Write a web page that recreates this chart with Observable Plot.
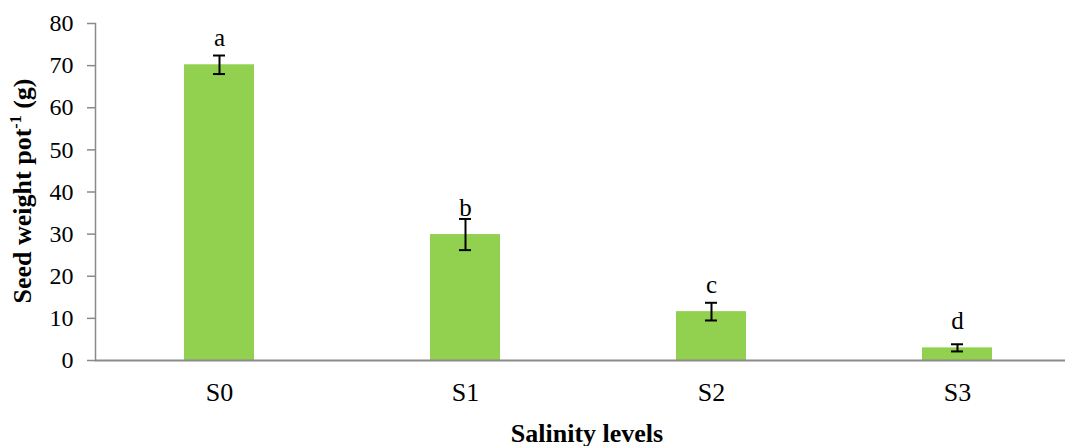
<!DOCTYPE html>
<html>
<head>
<meta charset="utf-8">
<script src="https://cdn.jsdelivr.net/npm/d3@7"></script>
<script src="https://cdn.jsdelivr.net/npm/@observablehq/plot@0.6"></script>
<style>
  html, body { margin: 0; padding: 0; background: white; }
  #chart { width: 1065px; height: 446px; }
</style>
</head>
<body>
<div id="chart"></div>
<script>
const levels = ["S0", "S1", "S2", "S3"];
const seedWeight = [70.2, 29.9, 11.6, 3.0];
const stdError = [2.2, 3.7, 2.1, 0.85];
const letters = ["a", "b", "c", "d"];
const yTicks = [0, 10, 20, 30, 40, 50, 60, 70, 80];

const data = levels.map((l, i) => ({
  level: l, value: seedWeight[i], err: stdError[i], letter: letters[i]
}));

const axisGray = "#8a8a8a";
const serif = "'Liberation Serif', 'Times New Roman', serif";

const chart = Plot.plot({
  width: 1065,
  height: 446,
  marginLeft: 95,
  marginRight: 0,
  marginTop: 23,
  marginBottom: 86,
  style: { fontFamily: serif, fontSize: "24px", background: "white", color: "black", overflow: "visible" },
  x: { domain: levels, range: [95, 1080], paddingInner: 0.716, paddingOuter: 0.358 },
  y: { domain: [0, 80] },
  marks: [
    Plot.barY(data, { x: "level", y: "value", fill: "#92D050" }),
    Plot.ruleY([0], { stroke: axisGray, strokeWidth: 2 }),
    Plot.frame({ anchor: "left", stroke: axisGray, strokeWidth: 1.5 }),
    Plot.ruleX(data, { x: "level", y1: d => d.value - d.err, y2: d => d.value + d.err, stroke: "black", strokeWidth: 2 }),
    Plot.tickY(data, { x: "level", y: d => d.value - d.err, stroke: "black", strokeWidth: 2, insetLeft: 29, insetRight: 29 }),
    Plot.tickY(data, { x: "level", y: d => d.value + d.err, stroke: "black", strokeWidth: 2, insetLeft: 29, insetRight: 29 }),
    Plot.text(data, { x: "level", y: "value", text: "letter", dy: -19, lineAnchor: "bottom", fontSize: 25, fill: "black" }),
    Plot.axisY({ ticks: yTicks, tickSize: 8, tickPadding: 14, label: null, stroke: axisGray, strokeWidth: 1.5, fill: "black", fontSize: 24 }),
    Plot.axisX({ tickSize: 0, tickPadding: 22, label: null, fill: "black", fontSize: 26 })
  ]
});

document.getElementById("chart").appendChild(chart);

const svg = d3.select(chart);
const yt = svg.append("text")
  .attr("transform", "translate(31,191) rotate(-90)")
  .attr("text-anchor", "middle")
  .attr("font-weight", "bold")
  .attr("font-size", 26)
  .attr("font-family", serif)
  .attr("fill", "black");
yt.append("tspan").text("Seed weight pot");
yt.append("tspan").attr("font-size", 16).attr("dy", -10).text("-1");
yt.append("tspan").attr("dy", 10).text(" (g)");

svg.append("text")
  .attr("x", 587)
  .attr("y", 442)
  .attr("text-anchor", "middle")
  .attr("font-weight", "bold")
  .attr("font-size", 26)
  .attr("font-family", serif)
  .attr("fill", "black")
  .text("Salinity levels");
</script>
</body>
</html>
